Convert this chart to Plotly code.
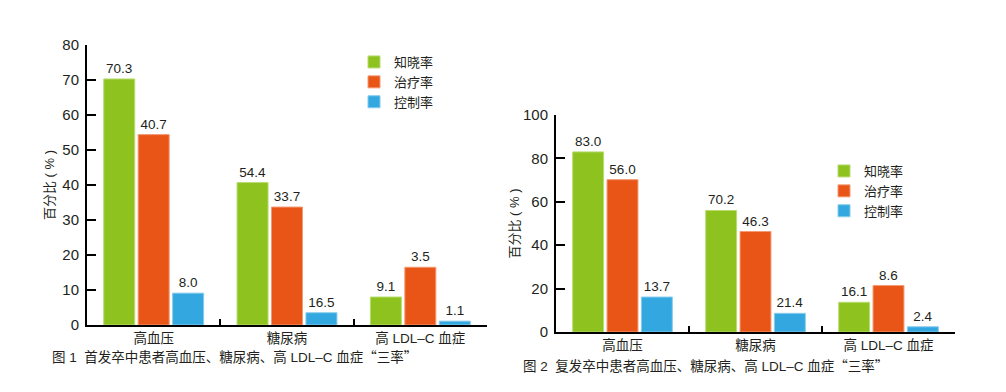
import plotly.graph_objects as go

categories = ["高血压", "糖尿病", "高 LDL–C 血症"]
series_names = ["知晓率", "治疗率", "控制率"]
colors = ["#8DC21F", "#E95517", "#33A8E0"]
edge_colors = ["#B9DC72", "#F39A74", "#86CBEC"]

# Figure 1 (首发卒中): bar heights per series and printed labels per series
fig1_heights = {
    "知晓率": [70.3, 40.7, 8.0],
    "治疗率": [54.4, 33.7, 16.5],
    "控制率": [9.1, 3.5, 1.1],
}
fig1_labels = {
    "知晓率": ["70.3", "54.4", "9.1"],
    "治疗率": ["40.7", "33.7", "3.5"],
    "控制率": ["8.0", "16.5", "1.1"],
}
# Figure 2 (复发卒中)
fig2_heights = {
    "知晓率": [83.0, 56.0, 13.7],
    "治疗率": [70.2, 46.3, 21.4],
    "控制率": [16.1, 8.6, 2.4],
}
fig2_labels = {
    "知晓率": ["83.0", "70.2", "16.1"],
    "治疗率": ["56.0", "46.3", "8.6"],
    "控制率": ["13.7", "21.4", "2.4"],
}
fig1_yticks = [0, 10, 20, 30, 40, 50, 60, 70, 80]
fig2_yticks = [0, 20, 40, 60, 80, 100]

CJK = "Noto Sans CJK SC"
NB = "\u00a0"
caption1 = ("图 1" + NB * 2 + "首发卒中患者高血压、糖尿病、高 LDL–C 血症"
            + f"<span style='font-family:{CJK}'>“三率”</span>")
caption2 = ("图 2" + NB * 2 + "复发卒中患者高血压、糖尿病、高 LDL–C 血症"
            + f"<span style='font-family:{CJK}'>“三率”</span>")
ytitle = "百分比" + NB + "(" + NB + "%" + NB + ")"

FONT = "Liberation Sans, Arial, Noto Sans CJK SC, sans-serif"
TXT = "#231F20"

fig = go.Figure()
for name, col, ec in zip(series_names, colors, edge_colors):
    fig.add_trace(go.Bar(
        x=categories, y=fig1_heights[name], name=name, text=fig1_labels[name],
        textposition="outside", textfont=dict(size=13.5, color=TXT, family=FONT),
        marker=dict(color=col, line=dict(width=1, color=ec)), cliponaxis=False,
        xaxis="x", yaxis="y", legend="legend"))
for name, col, ec in zip(series_names, colors, edge_colors):
    fig.add_trace(go.Bar(
        x=categories, y=fig2_heights[name], name=name, text=fig2_labels[name],
        textposition="outside", textfont=dict(size=13.5, color=TXT, family=FONT),
        marker=dict(color=col, line=dict(width=1, color=ec)), cliponaxis=False,
        xaxis="x2", yaxis="y2", legend="legend2"))

# page body has an 8px margin: the figure is drawn from (8, 8)
OFF = 8
W, H = 1006 - OFF, 392 - OFF
def px(xp): return (xp - OFF) / W
def py(yp): return (H - (yp - OFF)) / H

xcommon = dict(type="category", showline=True, linecolor="black", linewidth=2,
               ticks="inside", tickson="boundaries", ticklen=6, tickwidth=2,
               tickcolor="black", showgrid=False, zeroline=False, automargin=False,
               tickfont=dict(size=13.5, color=TXT, family=FONT))
ycommon = dict(showline=True, linecolor="black", linewidth=2, ticks="inside",
               ticklen=9, tickwidth=2, tickcolor="black", showgrid=False,
               zeroline=False, automargin=False, ticklabelstandoff=3,
               tickfont=dict(size=15, color=TXT, family=FONT))
tfont = dict(size=13, color=TXT, family=FONT)

fig.update_layout(
    width=W, height=H, margin=dict(l=0, r=0, t=0, b=0, autoexpand=False),
    paper_bgcolor="white", plot_bgcolor="white",
    barmode="group", bargap=0.225, bargroupgap=0.1,
    font=dict(family=FONT, color=TXT),
    xaxis=dict(domain=[px(87), px(487)], anchor="y", **xcommon),
    yaxis=dict(domain=[py(325), py(45)], anchor="x", range=[0, 80],
               tickvals=fig1_yticks, title=dict(text=ytitle, font=tfont, standoff=5),
               **ycommon),
    xaxis2=dict(domain=[px(556), px(955)], anchor="y2", **xcommon),
    yaxis2=dict(domain=[py(332), py(115)], anchor="x2", range=[0, 100],
                tickvals=fig2_yticks, title=dict(text=ytitle, font=tfont, standoff=0),
                **ycommon),
    legend=dict(x=px(354), y=py(47), xanchor="left", yanchor="top",
                font=dict(size=13, color=TXT, family=FONT), tracegroupgap=0,
                bgcolor="rgba(0,0,0,0)", itemwidth=30),
    legend2=dict(x=px(824), y=py(156), xanchor="left", yanchor="top",
                 font=dict(size=13, color=TXT, family=FONT), tracegroupgap=0,
                 bgcolor="rgba(0,0,0,0)", itemwidth=30),
    showlegend=True,
    annotations=[
        dict(text=caption1, x=px(50), y=py(356), xref="paper", yref="paper",
             xanchor="left", yanchor="middle", showarrow=False,
             font=dict(size=13.5, color=TXT, family=FONT)),
        dict(text=caption2, x=px(521), y=py(365), xref="paper", yref="paper",
             xanchor="left", yanchor="middle", showarrow=False,
             font=dict(size=13.5, color=TXT, family=FONT)),
    ],
)

fig.write_html("out.html")
